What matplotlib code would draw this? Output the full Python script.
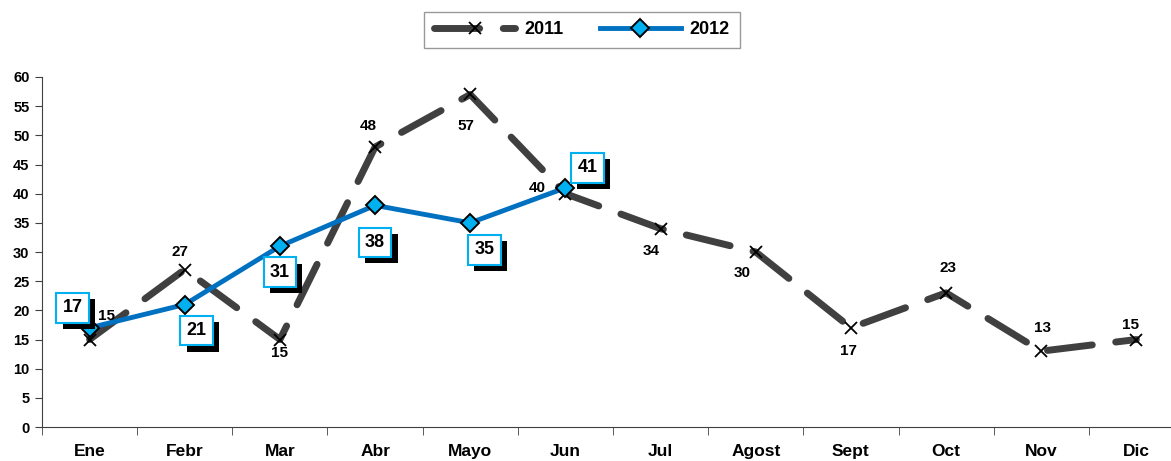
import numpy as np
import matplotlib.pyplot as plt
import matplotlib.patheffects as pe

months = ['Ene', 'Febr', 'Mar', 'Abr', 'Mayo', 'Jun', 'Jul', 'Agost', 'Sept', 'Oct', 'Nov', 'Dic']
y_2011 = [15, 27, 15, 48, 57, 40, 34, 30, 17, 23, 13, 15]
y_2012 = [17, 21, 31, 38, 35, 41]

# label offsets in pixels (dx, dy)
off_2011 = [(17, 24), (-5, 17), (0, -13), (-7, 21), (-4, -31), (-28, 6),
            (-9, -22), (-14, -21), (-2, -23), (2, 25), (1, 23), (-6, 15)]
off_2012 = [(-17, 20), (12, -26), (0, -26), (0, -37), (14, -27), (22, 20)]

plt.rcParams['font.family'] = ['Liberation Sans', 'DejaVu Sans']
plt.rcParams['font.weight'] = 'bold'

fig = plt.figure(figsize=(11.71, 4.61), dpi=100)
ax = fig.add_axes([42 / 1171, 34 / 461, 1142 / 1171, 350 / 461])

x = np.arange(len(months))
x12 = np.arange(len(y_2012))

l1, = ax.plot(x, y_2011, color='#404040', lw=5, dashes=(6.5, 3.4), dash_capstyle='round',
              marker='x', ms=9, mec='black', mew=1.3, label='2011', zorder=2)
l2, = ax.plot(x12, y_2012, color='#0070C0', lw=3.5, marker='D', ms=9,
              mfc='#00B0F0', mec='black', mew=1.4, label='2012', zorder=3)

for i, v in enumerate(y_2011):
    dx, dy = off_2011[i]
    ax.annotate(str(v), (i, v), xytext=(dx, dy), textcoords='offset pixels',
                ha='center', va='center', fontsize=11, fontweight='bold', zorder=4)

for i, v in enumerate(y_2012):
    dx, dy = off_2012[i]
    t = ax.annotate(str(v), (i, v), xytext=(dx, dy), textcoords='offset pixels',
                    ha='center', va='center', fontsize=13, fontweight='bold', color='black',
                    bbox=dict(boxstyle='square,pad=0.35', fc='white', ec='#00B0F0', lw=1.5), zorder=6)
    t.get_bbox_patch().set_path_effects([
        pe.SimplePatchShadow(offset=(4.5, -4.5), shadow_rgbFace='black', alpha=1),
        pe.Normal()])

ax.set_xlim(-0.5, 11.5)
ax.set_ylim(0, 60)
ax.set_yticks(np.arange(0, 61, 5))
ax.set_xticks(x)
ax.set_xticklabels(months, fontsize=12.5, fontweight='bold')
ax.set_xticks(np.arange(-0.5, 12, 1), minor=True)
ax.tick_params(axis='x', which='major', length=0, pad=12)
ax.tick_params(axis='x', which='minor', length=6, direction='out', color='#404040')
ax.tick_params(axis='y', length=5, direction='out', labelsize=10.5, color='#404040', pad=4)
for t in ax.get_yticklabels():
    t.set_fontweight('bold')

ax.spines['top'].set_visible(False)
ax.spines['right'].set_visible(False)
ax.spines['left'].set_color('#404040')
ax.spines['bottom'].set_color('#404040')

leg = fig.legend(handles=[l1, l2], loc='center', bbox_to_anchor=(582 / 1171, 1 - 30 / 461),
                 ncol=2, frameon=True, fancybox=False, fontsize=13, handlelength=4.5,
                 handletextpad=0.5, columnspacing=2.0, borderpad=0.55, borderaxespad=0)
leg.get_frame().set_edgecolor('#808080')
leg.get_frame().set_linewidth(1)
for t in leg.get_texts():
    t.set_fontweight('bold')

fig.savefig('out.png', dpi=100)
